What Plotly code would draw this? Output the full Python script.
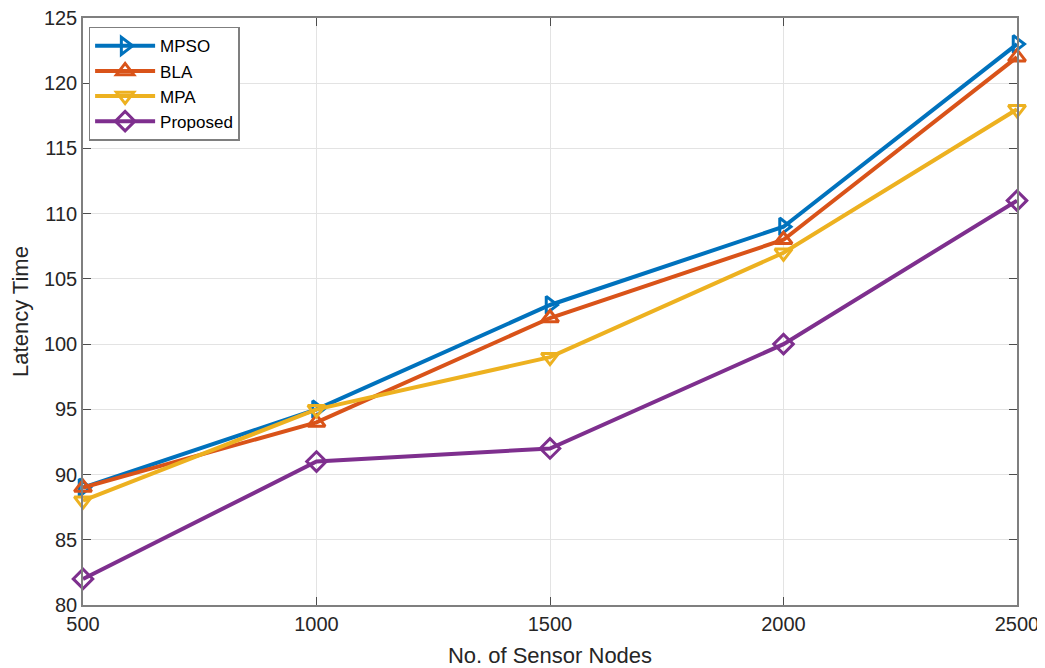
import plotly.graph_objects as go

nodes = [500, 1000, 1500, 2000, 2500]
mpso = [89, 95, 103, 109, 123]
bla = [89, 94, 102, 108, 122]
mpa = [88, 95, 99, 107, 118]
proposed = [82, 91, 92, 100, 111]

series = [
    ("MPSO", mpso, "#0072BD", "triangle-right-open"),
    ("BLA", bla, "#D95319", "triangle-up-open"),
    ("MPA", mpa, "#EDB120", "triangle-down-open"),
    ("Proposed", proposed, "#7E2F8E", "diamond-open"),
]

fig = go.Figure()
for name, vals, color, sym in series:
    fig.add_trace(go.Scatter(
        x=nodes, y=vals, name=name, mode="lines+markers",
        line=dict(color=color, width=4),
        marker=dict(symbol=sym, size=15, color=color, line=dict(width=3, color=color)),
        cliponaxis=False,
    ))

axis_common = dict(
    showline=True, linecolor="#7f7f7f", linewidth=1.5, mirror="ticks",
    ticks="inside", ticklen=8, tickcolor="#4d4d4d", tickwidth=1,
    showgrid=True, gridcolor="#e3e3e3", gridwidth=1, zeroline=False,
    automargin=False, ticklabeloverflow="allow",
    tickfont=dict(family="Liberation Sans, Arial", size=20, color="#262626"),
)

# page body has an 8px margin, so the figure is shrunk/offset to land in place
fig.update_layout(
    width=1037, height=660,
    margin=dict(l=75, r=28, t=10, b=63),
    paper_bgcolor="white", plot_bgcolor="white",
    font=dict(family="Liberation Sans, Arial", color="#262626"),
    xaxis=dict(range=[500, 2500], tickvals=[500, 1000, 1500, 2000, 2500],
               title=dict(text="No. of Sensor Nodes", font=dict(size=22)),
               **axis_common),
    yaxis=dict(range=[80, 125], tickvals=list(range(80, 126, 5)),
               title=dict(text="Latency Time", font=dict(size=22)),
               **axis_common),
    legend=dict(x=0.006, y=0.985, xanchor="left", yanchor="top",
                bgcolor="white", bordercolor="#7f7f7f", borderwidth=1.5,
                font=dict(size=17, color="#000000"), tracegroupgap=0,
                itemwidth=60),
    showlegend=True,
)

fig.write_html("out.html")
